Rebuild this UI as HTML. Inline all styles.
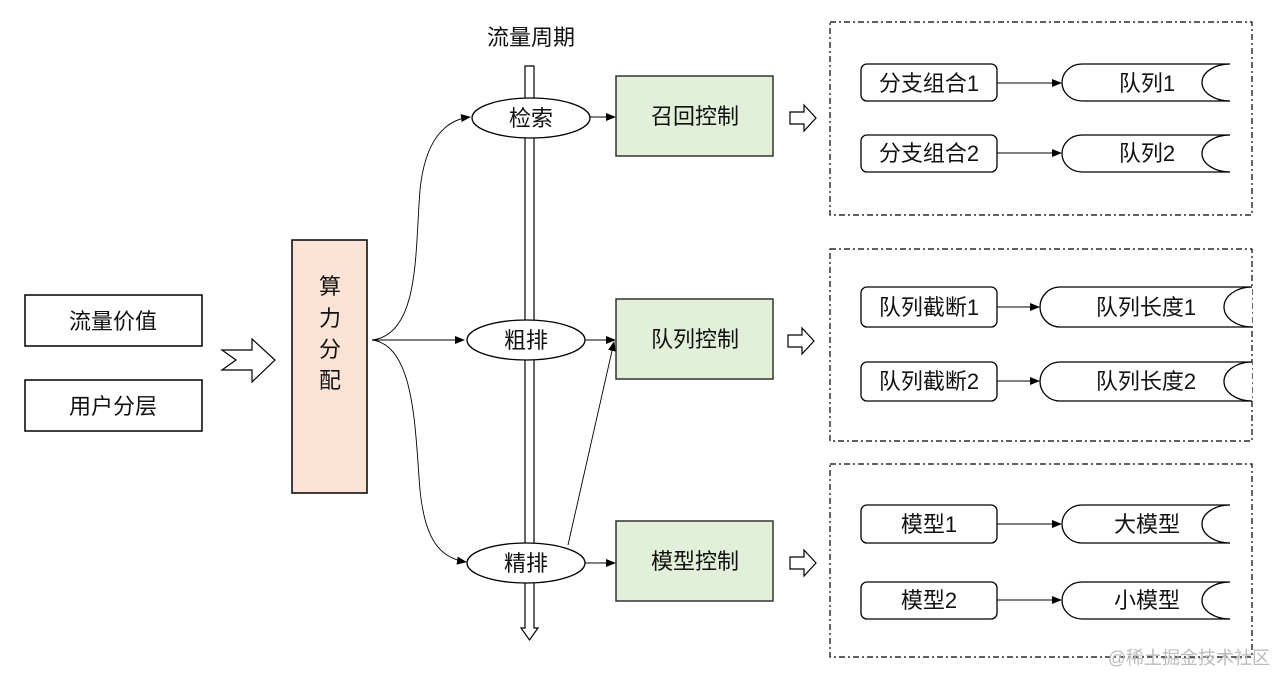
<!DOCTYPE html>
<html><head><meta charset="utf-8"><style>
html,body{margin:0;padding:0;background:#fff;}
svg{display:block;}
text{font-family:"Liberation Sans","Noto Sans CJK SC",sans-serif;fill:#111;}
</style></head><body>
<svg width="1276" height="674" viewBox="0 0 1276 674" xmlns="http://www.w3.org/2000/svg">
<defs>
<marker id="a" markerWidth="10" markerHeight="8" refX="9" refY="4" orient="auto" markerUnits="userSpaceOnUse">
<path d="M0,0 L10,4 L0,8 Z" fill="#000"/></marker>
</defs>
<g font-size="22" text-anchor="middle">
<text x="531" y="45">流量周期</text>
<!-- left boxes -->
<rect x="25" y="295" width="177" height="51" fill="#fff" stroke="#000" stroke-width="1.5"/>
<text x="113" y="329">流量价值</text>
<rect x="25" y="380" width="177" height="51" fill="#fff" stroke="#000" stroke-width="1.5"/>
<text x="113" y="414">用户分层</text>
<polygon points="222,350 252,350 252,339 275,360 252,382 252,370 222,370 236,360" fill="#fff" stroke="#000" stroke-width="1.2"/>
<!-- compute -->
<rect x="292" y="240" width="75" height="253" fill="#fbe3d6" stroke="#000" stroke-width="1.5"/>
<text x="330" y="294">算</text><text x="330" y="326">力</text><text x="330" y="357">分</text><text x="330" y="388">配</text>
<!-- timeline -->
<path d="M525,66 H534 V628 H538 L529.5,640 L521,628 H525 Z" fill="#fff" stroke="#000" stroke-width="1.2"/>
<!-- curves -->
<path d="M372,340 C420,335 415,250 420,190 C425,140 445,120 470,117" fill="none" stroke="#000" stroke-width="0.9" marker-end="url(#a)"/>
<path d="M372,340 H464" fill="none" stroke="#000" stroke-width="0.9" marker-end="url(#a)"/>
<path d="M372,340 C415,345 415,430 420,490 C425,540 440,558 466,562" fill="none" stroke="#000" stroke-width="0.9" marker-end="url(#a)"/>
<!-- ellipses -->
<ellipse cx="531" cy="118" rx="59" ry="20" fill="#fff" stroke="#000" stroke-width="1.3"/>
<text x="531" y="126">检索</text>
<ellipse cx="526" cy="340" rx="59" ry="20" fill="#fff" stroke="#000" stroke-width="1.3"/>
<text x="526" y="348">粗排</text>
<ellipse cx="526" cy="563" rx="59" ry="20" fill="#fff" stroke="#000" stroke-width="1.3"/>
<text x="526" y="571">精排</text>
<path d="M590,117 H615" stroke="#000" stroke-width="0.9" marker-end="url(#a)"/>
<path d="M585,340 H615" stroke="#000" stroke-width="0.9" marker-end="url(#a)"/>
<path d="M585,563 H615" stroke="#000" stroke-width="0.9" marker-end="url(#a)"/>
<path d="M568,545 L614,342" stroke="#000" stroke-width="0.9" marker-end="url(#a)"/>
<!-- green boxes -->
<rect x="616" y="76" width="157" height="80" fill="#e2efd9" stroke="#333" stroke-width="1.5"/>
<text x="695" y="124">召回控制</text>
<rect x="616" y="299" width="157" height="80" fill="#e2efd9" stroke="#333" stroke-width="1.5"/>
<text x="695" y="347">队列控制</text>
<rect x="616" y="521" width="157" height="80" fill="#e2efd9" stroke="#333" stroke-width="1.5"/>
<text x="695" y="569">模型控制</text>
<!-- small arrows -->
<g fill="#fff" stroke="#000" stroke-width="1.2">
<polygon points="790,112 804,112 804,105 816,118 804,131 804,124 790,124"/>
<polygon points="788,335 802,335 802,328 814,341 802,354 802,347 788,347"/>
<polygon points="790,557 804,557 804,550 816,563 804,576 804,569 790,569"/>
</g>
<!-- dashed panels -->
<g fill="none" stroke="#000" stroke-width="1.2" stroke-dasharray="6,3,2,3">
<rect x="830" y="22" width="422" height="193"/>
<rect x="830" y="249" width="422" height="192"/>
<rect x="830" y="464" width="422" height="193"/>
</g>
<!-- rows -->
<g stroke="#000" stroke-width="1.3" fill="#fff">
<rect x="861" y="64" width="136" height="37" rx="6"/>
<rect x="861" y="135" width="136" height="37" rx="6"/>
<rect x="861" y="287" width="136" height="40" rx="6"/>
<rect x="861" y="362" width="136" height="39" rx="6"/>
<rect x="861" y="505" width="136" height="38" rx="6"/>
<rect x="861" y="582" width="136" height="37" rx="6"/>
<path d="M1230,64 H1082 A20 18.5 0 0 0 1082,101 H1230"/>
<path d="M1230,64 A28 18.5 0 0 0 1230,101"/>
<path d="M1230,135 H1082 A20 18.5 0 0 0 1082,172 H1230"/>
<path d="M1230,135 A28 18.5 0 0 0 1230,172"/>
<path d="M1252,287 H1060 A20 20 0 0 0 1060,327 H1252"/>
<path d="M1252,287 A28 20 0 0 0 1252,327"/>
<path d="M1252,362 H1060 A20 19.5 0 0 0 1060,401 H1252"/>
<path d="M1252,362 A28 19.5 0 0 0 1252,401"/>
<path d="M1230,505 H1082 A20 19 0 0 0 1082,543 H1230"/>
<path d="M1230,505 A28 19 0 0 0 1230,543"/>
<path d="M1230,582 H1082 A20 18.5 0 0 0 1082,619 H1230"/>
<path d="M1230,582 A28 18.5 0 0 0 1230,619"/>
</g>
<g stroke="#000" stroke-width="0.9">
<path d="M997,83 H1061" marker-end="url(#a)"/>
<path d="M997,153 H1061" marker-end="url(#a)"/>
<path d="M997,307 H1039" marker-end="url(#a)"/>
<path d="M997,381 H1039" marker-end="url(#a)"/>
<path d="M997,524 H1061" marker-end="url(#a)"/>
<path d="M997,600 H1061" marker-end="url(#a)"/>
</g>
<text x="929" y="91">分支组合1</text>
<text x="929" y="161">分支组合2</text>
<text x="929" y="315">队列截断1</text>
<text x="929" y="389">队列截断2</text>
<text x="929" y="532">模型1</text>
<text x="929" y="608">模型2</text>
<text x="1147" y="91">队列1</text>
<text x="1147" y="161">队列2</text>
<text x="1146" y="315">队列长度1</text>
<text x="1146" y="389">队列长度2</text>
<text x="1147" y="532">大模型</text>
<text x="1147" y="608">小模型</text>
</g>
<text x="1270" y="664" font-size="18" text-anchor="end" style="fill:#bbb">@稀土掘金技术社区</text>
</svg>
</body></html>
